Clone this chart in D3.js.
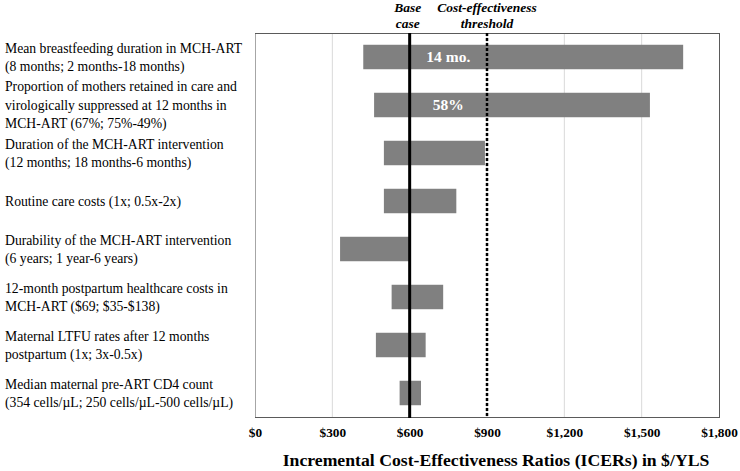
<!DOCTYPE html>
<html>
<head>
<meta charset="utf-8">
<script src="https://cdn.jsdelivr.net/npm/d3@7"></script>
<style>
  html, body { margin: 0; padding: 0; background: #fff; }
  svg { display: block; }
</style>
</head>
<body>
<svg id="chart" width="740" height="471"></svg>
<script>
// ---- Data ----
const parameters = [
  ["Mean breastfeeding duration in MCH-ART", "(8 months; 2 months-18 months)"],
  ["Proportion of mothers retained in care and", "virologically suppressed at 12 months in", "MCH-ART (67%; 75%-49%)"],
  ["Duration of the MCH-ART intervention", "(12 months; 18 months-6 months)"],
  ["Routine care costs (1x; 0.5x-2x)"],
  ["Durability of the MCH-ART intervention", "(6 years; 1 year-6 years)"],
  ["12-month postpartum healthcare costs in", "MCH-ART ($69; $35-$138)"],
  ["Maternal LTFU rates after 12 months", "postpartum (1x; 3x-0.5x)"],
  ["Median maternal pre-ART CD4 count", "(354 cells/\u00b5L; 250 cells/\u00b5L-500 cells/\u00b5L)"]
];
const lowValues  = [420, 462, 500, 500, 330, 530, 469, 561];
const highValues = [1661, 1532, 892, 781, 598, 730, 662, 644];
const barLabels  = ["14 mo.", "58%", "", "", "", "", "", ""];
const baseCase = 600;
const threshold = 900;
const xTicks = [0, 300, 600, 900, 1200, 1500, 1800];
const xDomain = [0, 1800];
const xTitle = "Incremental Cost-Effectiveness Ratios (ICERs) in $/YLS";
const headerBase = ["Base", "case"];
const headerThreshold = ["Cost-effectiveness", "threshold"];

// ---- Layout ----
const plot = { left: 255, right: 719, top: 33, bottom: 417 };
const svg = d3.select("#chart");
const serif = "'Liberation Serif', 'Times New Roman', serif";

const x = d3.scaleLinear().domain(xDomain).range([plot.left, plot.right]);
const y = d3.scaleBand()
  .domain(d3.range(parameters.length))
  .range([plot.top, plot.bottom])
  .paddingInner(0.49)
  .paddingOuter(0.245);
const rowStep = y.step();

// Gridlines
svg.append("g")
  .selectAll("line")
  .data(xTicks.filter(t => t > xDomain[0] && t < xDomain[1]))
  .join("line")
  .attr("x1", d => x(d)).attr("x2", d => x(d))
  .attr("y1", plot.top).attr("y2", plot.bottom)
  .attr("stroke", "#d9d9d9").attr("stroke-width", 1);

// Bars
const rows = parameters.map((p, i) => ({ i, lo: lowValues[i], hi: highValues[i], label: barLabels[i] }));
svg.append("g")
  .selectAll("rect")
  .data(rows)
  .join("rect")
  .attr("x", d => x(Math.min(d.lo, d.hi)))
  .attr("y", d => y(d.i))
  .attr("width", d => Math.abs(x(d.hi) - x(d.lo)))
  .attr("height", y.bandwidth())
  .attr("fill", "#808080");

// Plot border
svg.append("rect")
  .attr("x", plot.left + 0.5).attr("y", plot.top + 0.5)
  .attr("width", plot.right - plot.left).attr("height", plot.bottom - plot.top)
  .attr("fill", "none").attr("stroke", "#5a5a5a").attr("stroke-width", 1);
svg.append("line")
  .attr("x1", plot.left + 0.5).attr("x2", plot.left + 0.5)
  .attr("y1", plot.top + 1).attr("y2", plot.bottom)
  .attr("stroke", "#a6a6a6").attr("stroke-width", 1);

// Base case line
svg.append("line")
  .attr("x1", x(baseCase)).attr("x2", x(baseCase))
  .attr("y1", plot.top).attr("y2", plot.bottom + 1)
  .attr("stroke", "#000").attr("stroke-width", 3);

// Threshold dotted line
svg.append("line")
  .attr("x1", x(threshold)).attr("x2", x(threshold))
  .attr("y1", plot.top).attr("y2", plot.bottom)
  .attr("stroke", "#000").attr("stroke-width", 2.5)
  .attr("stroke-dasharray", "3,2");

// Bar value labels (centered between base case and threshold)
svg.append("g")
  .selectAll("text")
  .data(rows.filter(d => d.label))
  .join("text")
  .attr("x", x((baseCase + threshold) / 2))
  .attr("y", d => y(d.i) + y.bandwidth() / 2)
  .attr("dy", "0.35em")
  .attr("text-anchor", "middle")
  .attr("font-family", serif)
  .attr("font-weight", "bold")
  .attr("font-size", "15.5px")
  .attr("fill", "#fff")
  .text(d => d.label);

// Headers
function header(lines, cx) {
  const t = svg.append("text")
    .attr("text-anchor", "middle")
    .attr("font-family", serif)
    .attr("font-weight", "bold")
    .attr("font-style", "italic")
    .attr("font-size", "13.5px")
    .attr("fill", "#000");
  lines.forEach((l, k) => {
    t.append("tspan").attr("x", cx).attr("y", 11.5 + k * 16.5).text(l);
  });
}
header(headerBase, x(baseCase) - 2);
header(headerThreshold, x(threshold));

// X axis (tick labels only)
const xAxis = d3.axisBottom(x)
  .tickValues(xTicks)
  .tickSize(0)
  .tickPadding(0)
  .tickFormat(d => "$" + d3.format(",")(d));
const gx = svg.append("g")
  .attr("transform", `translate(0,${plot.bottom})`)
  .call(xAxis);
gx.select(".domain").remove();
gx.selectAll("text")
  .attr("y", 15)
  .attr("dy", "0.35em")
  .attr("font-family", serif)
  .attr("font-weight", "bold")
  .attr("font-size", "13.3px")
  .attr("fill", "#000");

// X title
svg.append("text")
  .attr("x", (plot.left + plot.right) / 2 + 9)
  .attr("y", 460)
  .attr("dy", "0.35em")
  .attr("text-anchor", "middle")
  .attr("font-family", serif)
  .attr("font-weight", "bold")
  .attr("font-size", "17.7px")
  .attr("fill", "#000")
  .text(xTitle);

// Category labels (left)
const lineH = 18.5;
const lab = svg.append("g");
parameters.forEach((lines, i) => {
  const cy = y(i) + y.bandwidth() / 2;
  const t = lab.append("text")
    .attr("font-family", serif)
    .attr("font-size", "13.7px")
    .attr("fill", "#000");
  lines.forEach((l, k) => {
    t.append("tspan")
      .attr("x", 5)
      .attr("y", cy + (k - (lines.length - 1) / 2) * lineH)
      .attr("dy", "0.35em")
      .text(l);
  });
});
</script>
</body>
</html>
